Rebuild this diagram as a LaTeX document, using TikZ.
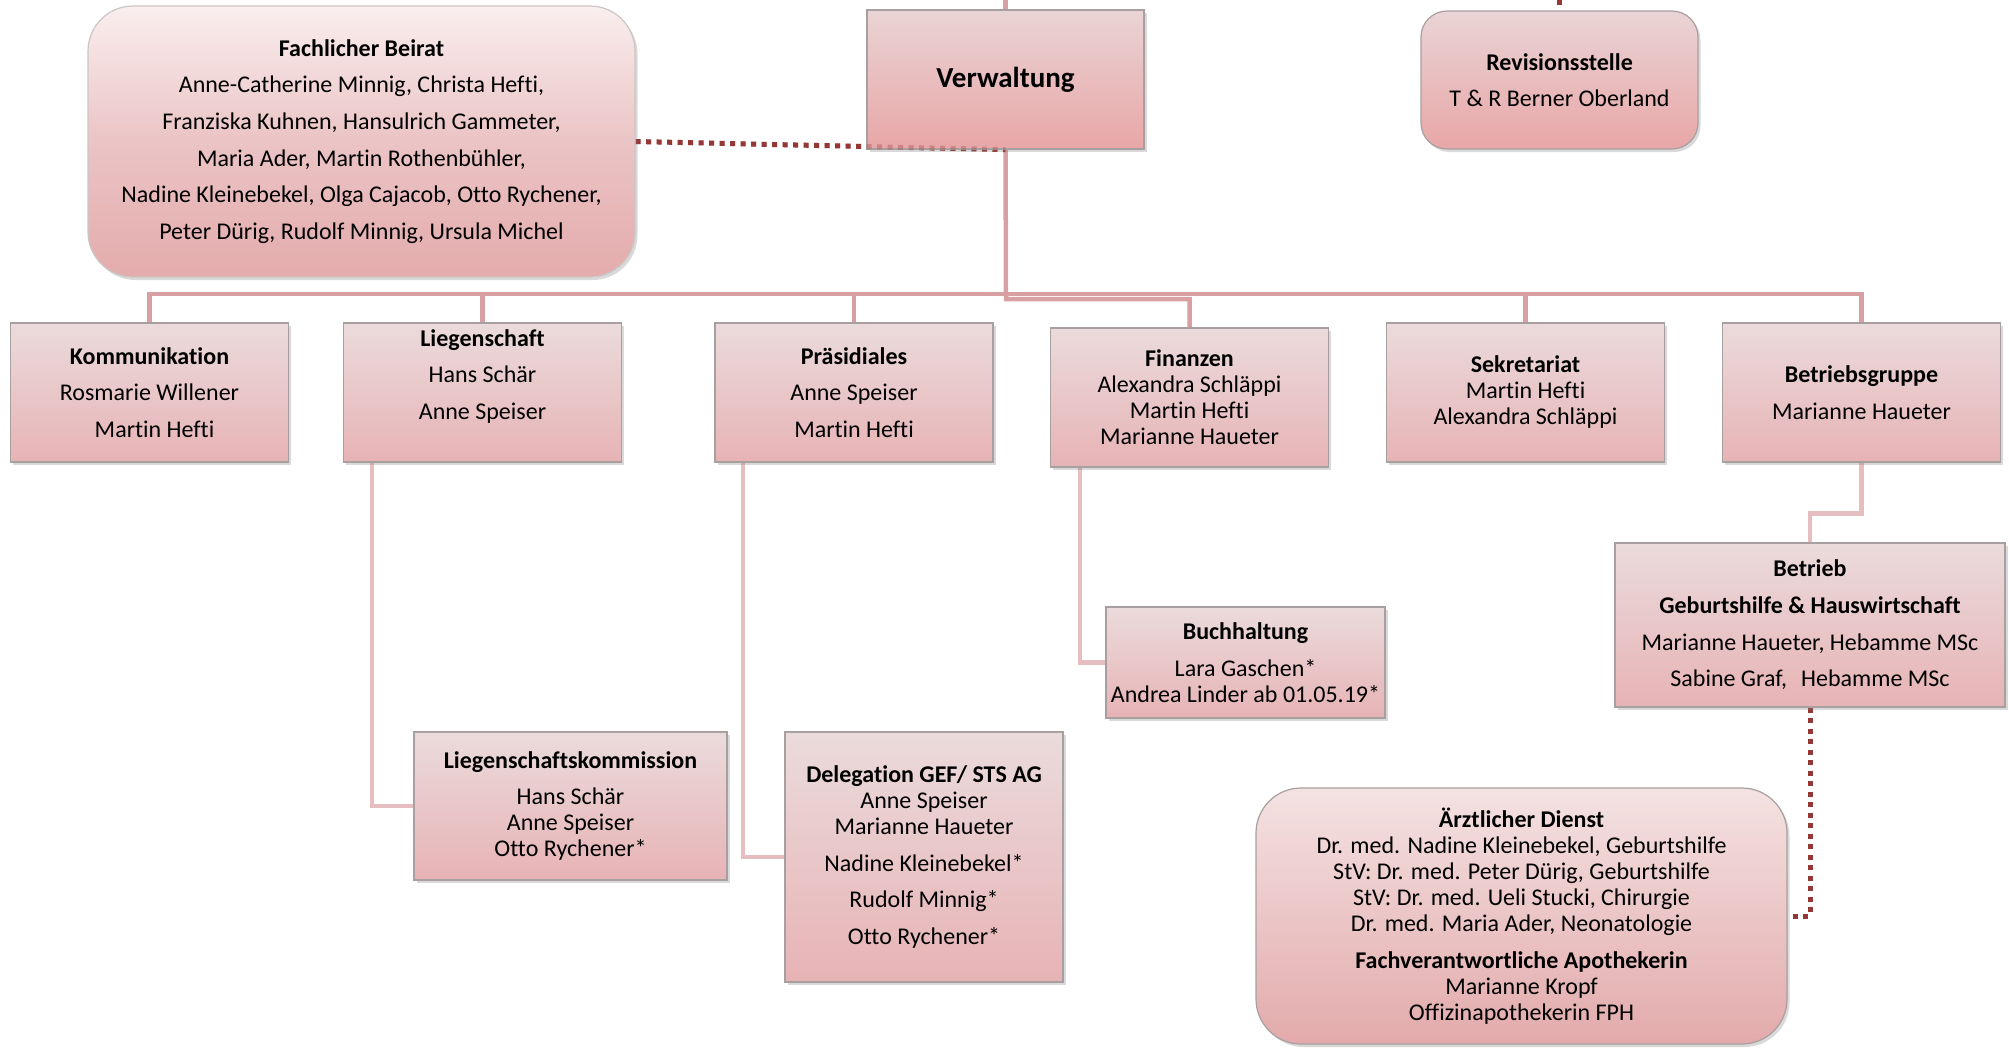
\documentclass[tikz,border=0pt]{standalone}
\usepackage{fontspec}
\setmainfont{Carlito}[Ligatures=NoCommon]
\usetikzlibrary{shadows,calc}
\pgfdeclarelayer{background}
\pgfsetlayers{background,main}
\definecolor{connc}{HTML}{D9A0A3}
\definecolor{connlight}{HTML}{E6BEC0}
\definecolor{dotred}{HTML}{953735}
\definecolor{boxtop}{HTML}{EBDBDC}
\definecolor{boxbot}{HTML}{E7B3B5}
\definecolor{boxline}{HTML}{A8A0A0}
\definecolor{verwtop}{HTML}{EAD4D5}
\definecolor{verwbot}{HTML}{E8A6A7}
\definecolor{beirattop}{HTML}{FAEEEE}
\definecolor{beiratmid}{HTML}{EBC4C5}
\definecolor{beiratbot}{HTML}{E4ABAC}
\definecolor{aerzttop}{HTML}{F4E2E2}
\definecolor{aerztbot}{HTML}{E3AAAB}
\begin{document}
\begin{tikzpicture}[x=1pt,y=-1pt,
  orgbox/.style={draw=boxline, line width=1.2pt, top color=boxtop, bottom color=boxbot,
    drop shadow={opacity=0.3, shadow xshift=2.5pt, shadow yshift=-3pt},
    inner sep=0pt, align=center, font=\fontsize{24}{36.6}\selectfont},
  tightbox/.style={orgbox, font=\fontsize{24}{26}\selectfont},
  stdsize/.style={minimum width=278pt, minimum height=139pt},
  connline/.style={draw=connc, line width=4.5pt},
  sublink/.style={draw=connlight, line width=4.5pt},
  dotline/.style={draw=dotred, line width=5pt, dash pattern=on 5pt off 5.5pt}]
\useasboundingbox (0,0) rectangle (2009,1047);

% top level
\node[orgbox, rounded corners=45pt, draw=boxline!60, top color=beirattop, bottom color=beiratbot, middle color=beiratmid,
  minimum width=547pt, minimum height=271pt] (beirat) at (361.5,141.5)
  {\textbf{Fachlicher Beirat}\\Anne-Catherine Minnig, Christa Hefti,\\Franziska Kuhnen, Hansulrich Gammeter,\\Maria Ader, Martin Rothenbühler,\\Nadine Kleinebekel, Olga Cajacob, Otto Rychener,\\Peter Dürig, Rudolf Minnig, Ursula Michel};

\node[orgbox, top color=verwtop, bottom color=verwbot,
  minimum width=277pt, minimum height=139pt] (verw) at (1005.5,79.5)
  {\fontsize{29}{30}\selectfont\textbf{Verwaltung}};

\node[orgbox, rounded corners=26pt, top color=verwtop, bottom color=verwbot,
  minimum width=277pt, minimum height=138pt] (rev) at (1559.5,80)
  {\textbf{Revisionsstelle}\\T \& R Berner Oberland};

% second row
\node[orgbox, stdsize] (komm) at (149.5,392.5)
  {\textbf{Kommunikation}\\Rosmarie Willener\\\hspace*{10pt}Martin Hefti};
\node[orgbox, stdsize] (lieg) at (482.5,392.5)
  {\textbf{Liegenschaft}\\Hans Schär\\Anne Speiser\\\mbox{}};
\node[orgbox, stdsize] (praes) at (854,392.5)
  {\textbf{Präsidiales}\\Anne Speiser\\Martin Hefti};
\node[tightbox, stdsize] (fin) at (1189.5,397.5)
  {\textbf{Finanzen}\\Alexandra Schläppi\\Martin Hefti\\Marianne Haueter};
\node[tightbox, stdsize] (sek) at (1525.5,392.5)
  {\textbf{Sekretariat}\\Martin Hefti\\Alexandra Schläppi};
\node[orgbox, stdsize] (betr) at (1861.5,392.5)
  {\textbf{Betriebsgruppe}\\Marianne Haueter};

% third level
\node[orgbox, minimum width=390pt, minimum height=164pt] (betrieb) at (1810,625)
  {\textbf{Betrieb}\\\textbf{Geburtshilfe \& Hauswirtschaft}\\Marianne Haueter, Hebamme MSc\\Sabine Graf,\hspace{14pt}Hebamme MSc};
\node[tightbox, minimum width=279pt, minimum height=111pt] (buch) at (1245.5,662.5)
  {\textbf{Buchhaltung}\\[10.5pt]Lara Gaschen*\\Andrea Linder ab 01.05.19*};
\node[tightbox, minimum width=313pt, minimum height=148pt] (lkom) at (570.5,806)
  {\textbf{Liegenschaftskommission}\\[10.5pt]Hans Schär\\Anne Speiser\\Otto Rychener*};
\node[tightbox, minimum width=278pt, minimum height=250pt] (del) at (924,857)
  {\textbf{Delegation GEF/ STS AG}\\Anne Speiser\\Marianne Haueter\\[10.5pt]Nadine Kleinebekel*\\[10.5pt]Rudolf Minnig*\\[10.5pt]Otto Rychener*};
\node[tightbox, rounded corners=45pt, top color=aerzttop, bottom color=aerztbot,
  minimum width=531pt, minimum height=256pt] (aerzt) at (1521.5,916)
  {\textbf{Ärztlicher Dienst}\\Dr. med. Nadine Kleinebekel, Geburtshilfe\\StV: Dr. med. Peter Dürig, Geburtshilfe\\StV: Dr. med. Ueli Stucki, Chirurgie\\Dr. med. Maria Ader, Neonatologie\\[10.5pt]\textbf{Fachverantwortliche Apothekerin}\\Marianne Kropf\\Offizinapothekerin FPH};

% helper coordinates
\coordinate (verwtopend) at (1005.5,0);
\coordinate (revtopend) at (1559.5,0);
\coordinate (bus) at (1006,294);
\coordinate (finbus) at (1006,299);

\begin{pgfonlayer}{background}
\draw[connline] (verw.north) -- (verwtopend);
\draw[connline] (verw.south) -- (finbus) -| (fin.north);
\draw[connline] (komm.north) |- (betr.north |- bus) -- (betr.north);
\foreach \n in {lieg,praes,sek} \draw[connline] (\n.north) -- (\n.north |- bus);
\draw[sublink] ([xshift=-110.5pt]lieg.south) |- (lkom.west);
\draw[sublink] ([xshift=-111pt]praes.south) |- (del.west);
\draw[sublink] ([xshift=-109.5pt]fin.south) |- (buch.west);
\draw[sublink] (betr.south) -- ++(0,51) -| (betrieb.north);
\draw[dotline] (betrieb.south) |- (aerzt.east);
\draw[dotline] (beirat.east) -- (verw.south);
\draw[dotline] (revtopend) -- (rev.north);
\end{pgfonlayer}
% the dotted link shows faintly through the Verwaltung box
\draw[dotline, draw opacity=0.3] (beirat.east) -- (verw.south);
\end{tikzpicture}
\end{document}
